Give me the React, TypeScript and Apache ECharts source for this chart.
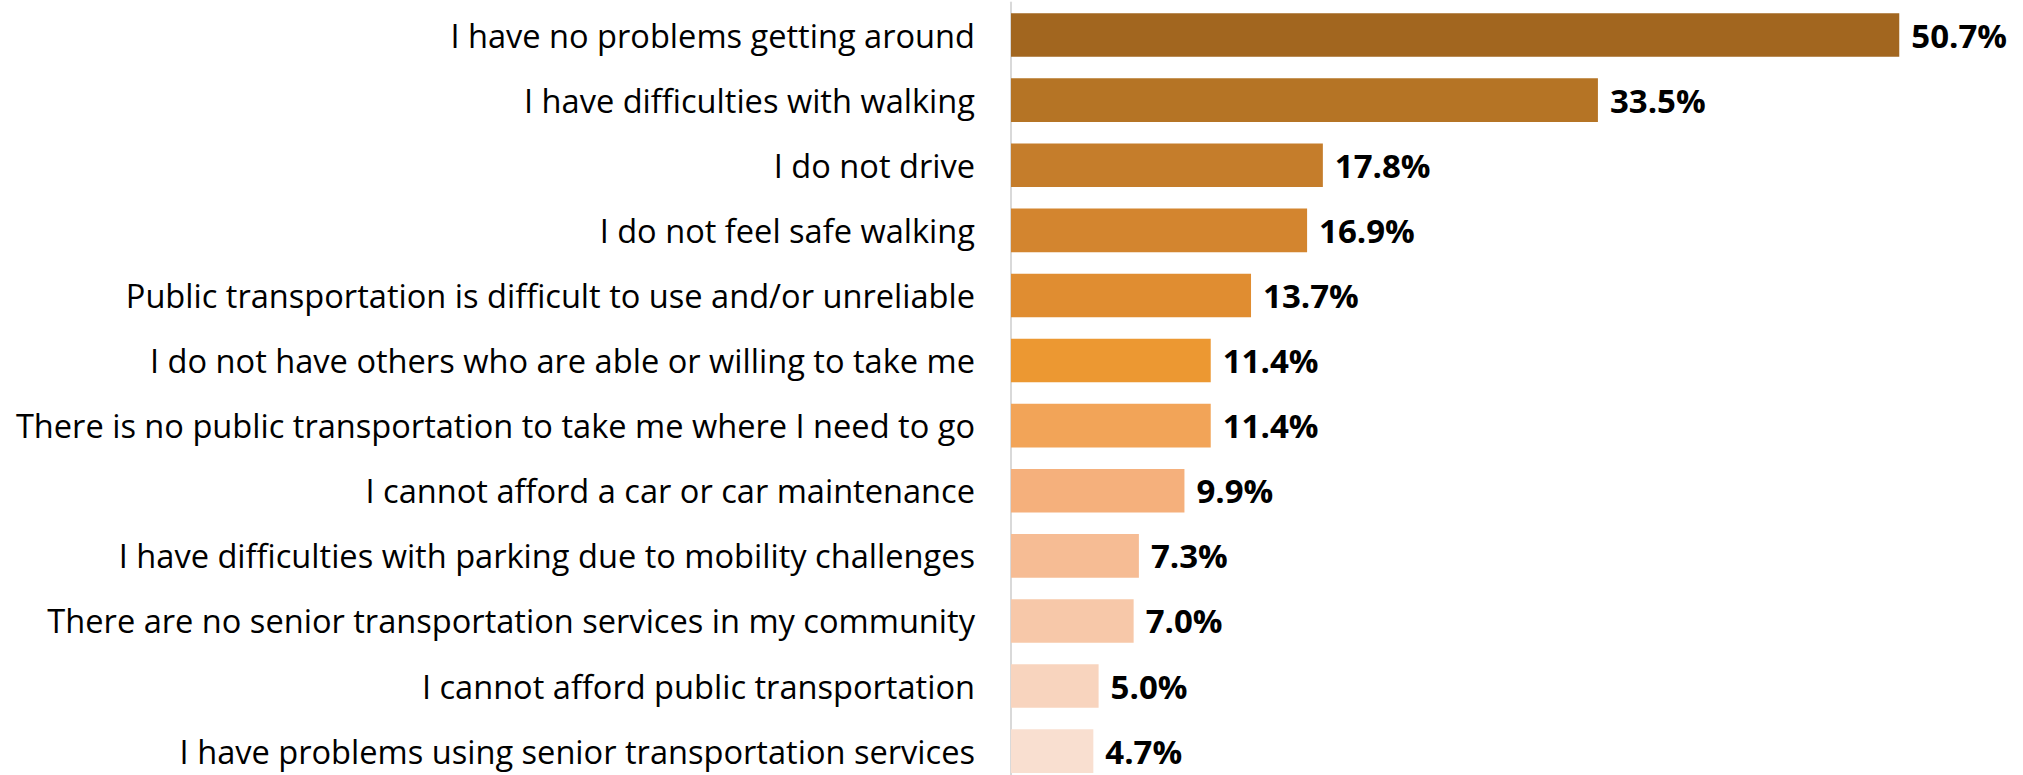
import React, { useEffect, useRef } from "react";
import * as echarts from "echarts";

const categories = [
  "I have no problems getting around",
  "I have difficulties with walking",
  "I do not drive",
  "I do not feel safe walking",
  "Public transportation is difficult to use and/or unreliable",
  "I do not have others who are able or willing to take me",
  "There is no public transportation to take me where I need to go",
  "I cannot afford a car or car maintenance",
  "I have difficulties with parking due to mobility challenges",
  "There are no senior transportation services in my community",
  "I cannot afford public transportation",
  "I have problems using senior transportation services",
];

const values = [50.7, 33.5, 17.8, 16.9, 13.7, 11.4, 11.4, 9.9, 7.3, 7.0, 5.0, 4.7];

const barColors = [
  "#A2661F",
  "#B57425",
  "#C57D2B",
  "#D3852F",
  "#E08D31",
  "#EC9832",
  "#F2A458",
  "#F5B07C",
  "#F6BC94",
  "#F7C8A9",
  "#F8D4BE",
  "#F9DFD0",
];

export default function App() {
  const ref = useRef<HTMLDivElement>(null);
  useEffect(() => {
    if (!ref.current) return;
    const chart = echarts.init(ref.current, null, { renderer: "svg" });
    chart.setOption({
      animation: false,
      backgroundColor: "#ffffff",
      grid: {
        left: 1011,
        top: 2.5,
        width: 55 * 17.52,
        height: 12 * 65.1,
        containLabel: false,
        outerBoundsMode: "none",
      },
      xAxis: {
        type: "value",
        min: 0,
        max: 55,
        show: false,
      },
      yAxis: {
        type: "category",
        data: categories,
        inverse: true,
        axisLine: { show: true, lineStyle: { color: "#d9d9d9", width: 2 } },
        axisTick: { show: false },
        axisLabel: {
          margin: 36,
          fontFamily: "Open Sans",
          fontSize: 32.6,
          color: "#000000",
        },
        splitLine: { show: false },
      },
      series: [
        {
          type: "bar",
          data: values.map((v, i) => ({ value: v, itemStyle: { color: barColors[i] } })),
          barCategoryGap: "33%",
          label: {
            show: true,
            position: "right",
            distance: 12,
            formatter: (p: any) => p.value.toFixed(1) + "%",
            fontFamily: "Open Sans",
            fontWeight: "bold",
            fontSize: 33,
            color: "#000000",
          },
        },
      ],
    });
    return () => chart.dispose();
  }, []);
  return (
    <div
      style={{
        position: "absolute",
        left: 0,
        top: 0,
        width: 2023,
        height: 775,
        overflow: "hidden",
        background: "#ffffff",
      }}
    >
      <div ref={ref} style={{ width: 2023, height: 800 }} />
    </div>
  );
}
